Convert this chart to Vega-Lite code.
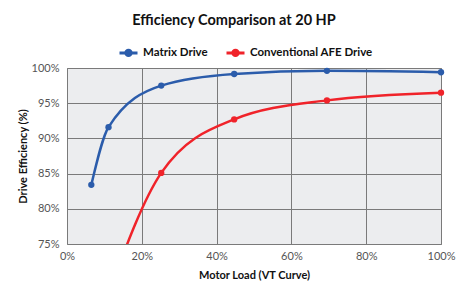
{
  "$schema": "https://vega.github.io/schema/vega-lite/v6.json",
  "autosize": "none",
  "width": 374,
  "height": 176,
  "padding": {"left": 67, "top": 68, "right": 28, "bottom": 40},
  "background": "white",
  "title": {
    "text": "Efficiency Comparison at 20 HP",
    "font": "Lato",
    "fontSize": 14.5,
    "fontWeight": "bold",
    "color": "#111111",
    "anchor": "middle",
    "dx": -20,
    "offset": 14
  },
  "config": {
    "view": {"fill": "#ECEDEF", "stroke": "#8A8A8A", "strokeWidth": 1},
    "axis": {
      "grid": true,
      "gridColor": "#7A7A7A",
      "gridWidth": 1,
      "domain": false,
      "ticks": false,
      "labelOverlap": false,
      "labelFlush": false,
      "labelFont": "Lato",
      "labelFontSize": 11,
      "labelColor": "#555555",
      "titleFont": "Lato",
      "titleFontSize": 11,
      "titleFontWeight": "bold",
      "titleColor": "#111111"
    },
    "legend": {
      "labelFont": "Lato",
      "labelFontSize": 11.5,
      "labelFontWeight": "bold",
      "labelColor": "#111111"
    }
  },
  "data": {
    "values": [
      {"series": "Matrix Drive", "load": 6.5, "eff": 83.4},
      {"series": "Matrix Drive", "load": 11.1, "eff": 91.6},
      {"series": "Matrix Drive", "load": 25.2, "eff": 97.5},
      {"series": "Matrix Drive", "load": 44.7, "eff": 99.15},
      {"series": "Matrix Drive", "load": 69.5, "eff": 99.6},
      {"series": "Matrix Drive", "load": 100, "eff": 99.4},
      {"series": "Conventional AFE Drive", "load": 11.1, "eff": 68},
      {"series": "Conventional AFE Drive", "load": 25.2, "eff": 85.1},
      {"series": "Conventional AFE Drive", "load": 44.7, "eff": 92.7},
      {"series": "Conventional AFE Drive", "load": 69.5, "eff": 95.4},
      {"series": "Conventional AFE Drive", "load": 100, "eff": 96.5}
    ]
  },
  "encoding": {
    "x": {
      "field": "load",
      "type": "quantitative",
      "scale": {"domain": [0, 100], "nice": false},
      "axis": {"values": [0, 20, 40, 60, 80, 100], "labelExpr": "datum.value + '%'", "labelPadding": 6, "title": "Motor Load (VT Curve)", "titlePadding": 8}
    },
    "y": {
      "field": "eff",
      "type": "quantitative",
      "scale": {"domain": [75, 100], "nice": false, "zero": false},
      "axis": {"values": [75, 80, 85, 90, 95, 100], "labelExpr": "datum.value + '%'", "labelPadding": 8, "title": "Drive Efficiency (%)", "titlePadding": 3}
    },
    "color": {
      "field": "series",
      "type": "nominal",
      "sort": ["Matrix Drive", "Conventional AFE Drive"],
      "scale": {"domain": ["Matrix Drive", "Conventional AFE Drive"], "range": ["#2B5CAB", "#F0232A"]},
      "legend": {
        "title": null,
        "orient": "none",
        "direction": "horizontal",
        "legendX": 51,
        "legendY": -26,
        "symbolType": "M-1,0L1,0M-0.3,0A0.3,0.3 0 1,0 0.3,0A0.3,0.3 0 1,0 -0.3,0Z",
        "symbolStrokeWidth": 3,
        "symbolSize": 324,
        "columnPadding": 12,
        "labelOffset": 4,
        "encode": {
          "symbols": {"update": {"fill": {"scale": "color", "field": "value"}}}
        }
      }
    }
  },
  "layer": [
    {
      "mark": {"type": "line", "interpolate": "monotone", "strokeWidth": 2.5, "clip": true}
    },
    {
      "transform": [{"filter": "datum.eff >= 75"}],
      "mark": {"type": "point", "filled": true, "opacity": 1, "size": 40}
    }
  ]
}
